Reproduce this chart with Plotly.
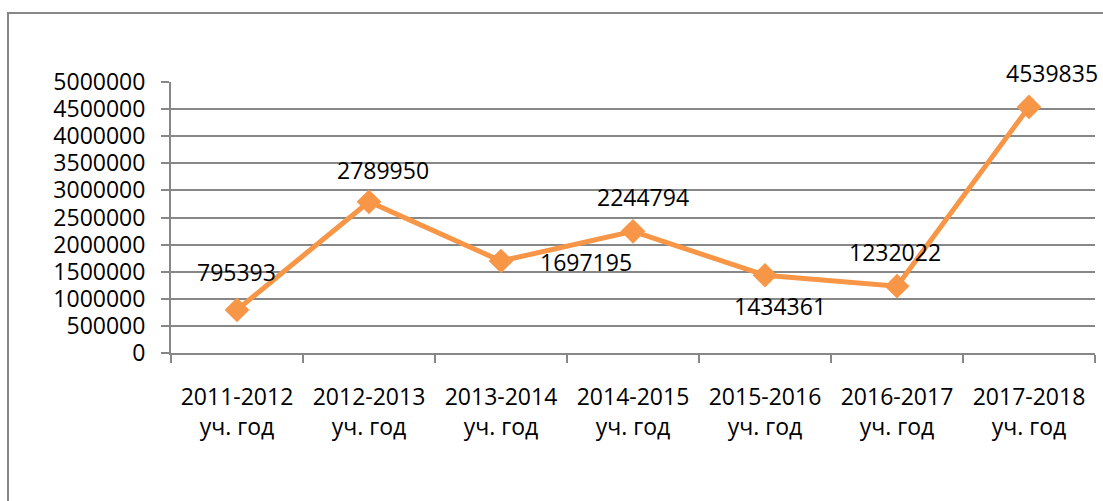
import plotly.graph_objects as go

categories = ["2011-2012<br>уч. год", "2012-2013<br>уч. год", "2013-2014<br>уч. год",
              "2014-2015<br>уч. год", "2015-2016<br>уч. год", "2016-2017<br>уч. год",
              "2017-2018<br>уч. год"]
values = [795393, 2789950, 1697195, 2244794, 1434361, 1232022, 4539835]
label_dx = [-1, 14, 85, 10, 15, -2, 23]
label_dy = [38, 32, -1, 34, -31, 34, 34]
tick_vals = list(range(0, 5000001, 500000))

ORANGE = "#F79646"
GRAY = "#878787"
FONT = "Open Sans"

fig = go.Figure()
fig.add_trace(go.Scatter(
    x=categories, y=values, mode="lines+markers",
    line=dict(color=ORANGE, width=5),
    marker=dict(symbol="diamond", size=19, color=ORANGE),
    showlegend=False, hoverinfo="x+y",
))

for c, v, dx, dy in zip(categories, values, label_dx, label_dy):
    fig.add_annotation(x=c, y=v, xref="x", yref="y", text=str(v), showarrow=False,
                       xshift=dx, yshift=dy, font=dict(family=FONT, size=23, color="#000000"))

fig.add_shape(type="rect", xref="paper", yref="paper",
              x0=-0.1764, x1=1.2, y0=-0.8, y1=1.2546,
              line=dict(color=GRAY, width=2), fillcolor="rgba(0,0,0,0)", layer="below")

fig.update_layout(
    width=1103, height=501,
    margin=dict(l=171, r=8, t=82, b=148),
    paper_bgcolor="white", plot_bgcolor="white",
    font=dict(family=FONT, size=23, color="#000000"),
    xaxis=dict(type="category", range=[-0.5, len(categories) - 0.5],
               tickson="boundaries", ticks="outside", ticklen=8,
               tickcolor=GRAY, tickwidth=2, showline=True, linecolor=GRAY, linewidth=2,
               showgrid=False, ticklabelstandoff=22, tickfont=dict(family=FONT, size=23),
               fixedrange=True),
    yaxis=dict(range=[0, 5000000], tickvals=tick_vals, ticktext=[str(t) for t in tick_vals],
               ticks="outside", ticklen=8, tickcolor=GRAY, tickwidth=2,
               showline=True, linecolor=GRAY, linewidth=2,
               showgrid=True, gridcolor=GRAY, gridwidth=2, zeroline=False,
               tickfont=dict(family=FONT, size=23), ticklabelstandoff=11, fixedrange=True),
)

fig.write_html("out.html", config={"displayModeBar": False},
               post_script="document.body.style.margin='0';document.body.style.overflow='hidden';")
